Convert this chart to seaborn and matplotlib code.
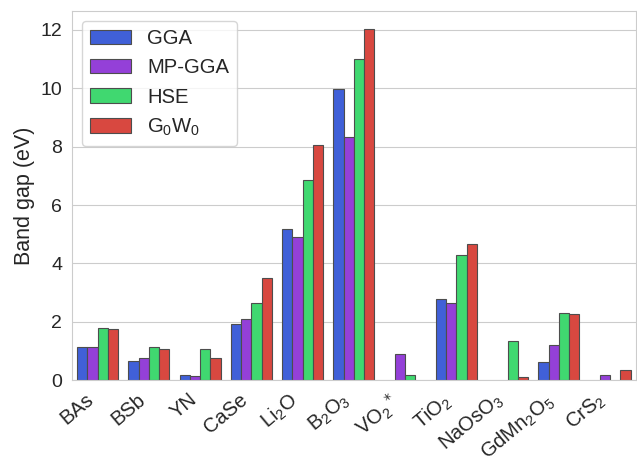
import matplotlib
matplotlib.use('Agg')
import matplotlib.pyplot as plt
import numpy as np
import pandas as pd
import seaborn as sns

materials = ['BAs', 'BSb', 'YN', 'CaSe', r'Li$_\mathregular{2}$O', r'B$_\mathregular{2}$O$_\mathregular{3}$',
             r'VO$_\mathregular{2}$$^*$', r'TiO$_\mathregular{2}$', r'NaOsO$_\mathregular{3}$',
             r'GdMn$_\mathregular{2}$O$_\mathregular{5}$', r'CrS$_\mathregular{2}$']
methods = ['GGA', 'MP-GGA', 'HSE', r'G$_\mathregular{0}$W$_\mathregular{0}$']

gga = [1.12, 0.65, 0.17, 1.92, 5.18, 9.97, np.nan, 2.77, np.nan, 0.63, np.nan]
mp_gga = [1.14, 0.75, 0.15, 2.08, 4.90, 8.34, 0.88, 2.66, np.nan, 1.20, 0.17]
hse = [1.77, 1.15, 1.05, 2.63, 6.85, 10.99, 0.17, 4.30, 1.33, 2.29, np.nan]
g0w0 = [1.74, 1.05, 0.75, 3.50, 8.07, 12.03, np.nan, 4.65, 0.12, 2.26, 0.34]

colors = ['#4060d8', '#9440d8', '#40d870', '#d84840']

rows = []
for method, vals in zip(methods, [gga, mp_gga, hse, g0w0]):
    for mat, v in zip(materials, vals):
        rows.append({'material': mat, 'method': method, 'gap': v})
df = pd.DataFrame(rows)

sns.set_style('whitegrid')
plt.rcParams['font.family'] = ['Liberation Sans', 'DejaVu Sans']

fig, ax = plt.subplots(figsize=(6.37, 4.58), dpi=100)
sns.barplot(data=df, x='material', y='gap', hue='method', order=materials,
            hue_order=methods, palette=colors, saturation=1, edgecolor='0.3',
            linewidth=0.8, width=0.8, ax=ax)

ax.set_xlabel('')
ax.set_ylabel('Band gap (eV)', fontsize=15.5)
ax.set_ylim(0, 12.65)
ax.set_yticks([0, 2, 4, 6, 8, 10, 12])
ax.tick_params(axis='y', labelsize=14)
ax.tick_params(axis='x', labelsize=14.5)
plt.setp(ax.get_xticklabels(), rotation=40, ha='right')
ax.legend(loc='upper left', fontsize=14.6, frameon=True)
for s in ax.spines.values():
    s.set_color('0.8')

fig.subplots_adjust(left=0.113, right=0.998, top=0.976, bottom=0.17)
plt.savefig('out.png')
